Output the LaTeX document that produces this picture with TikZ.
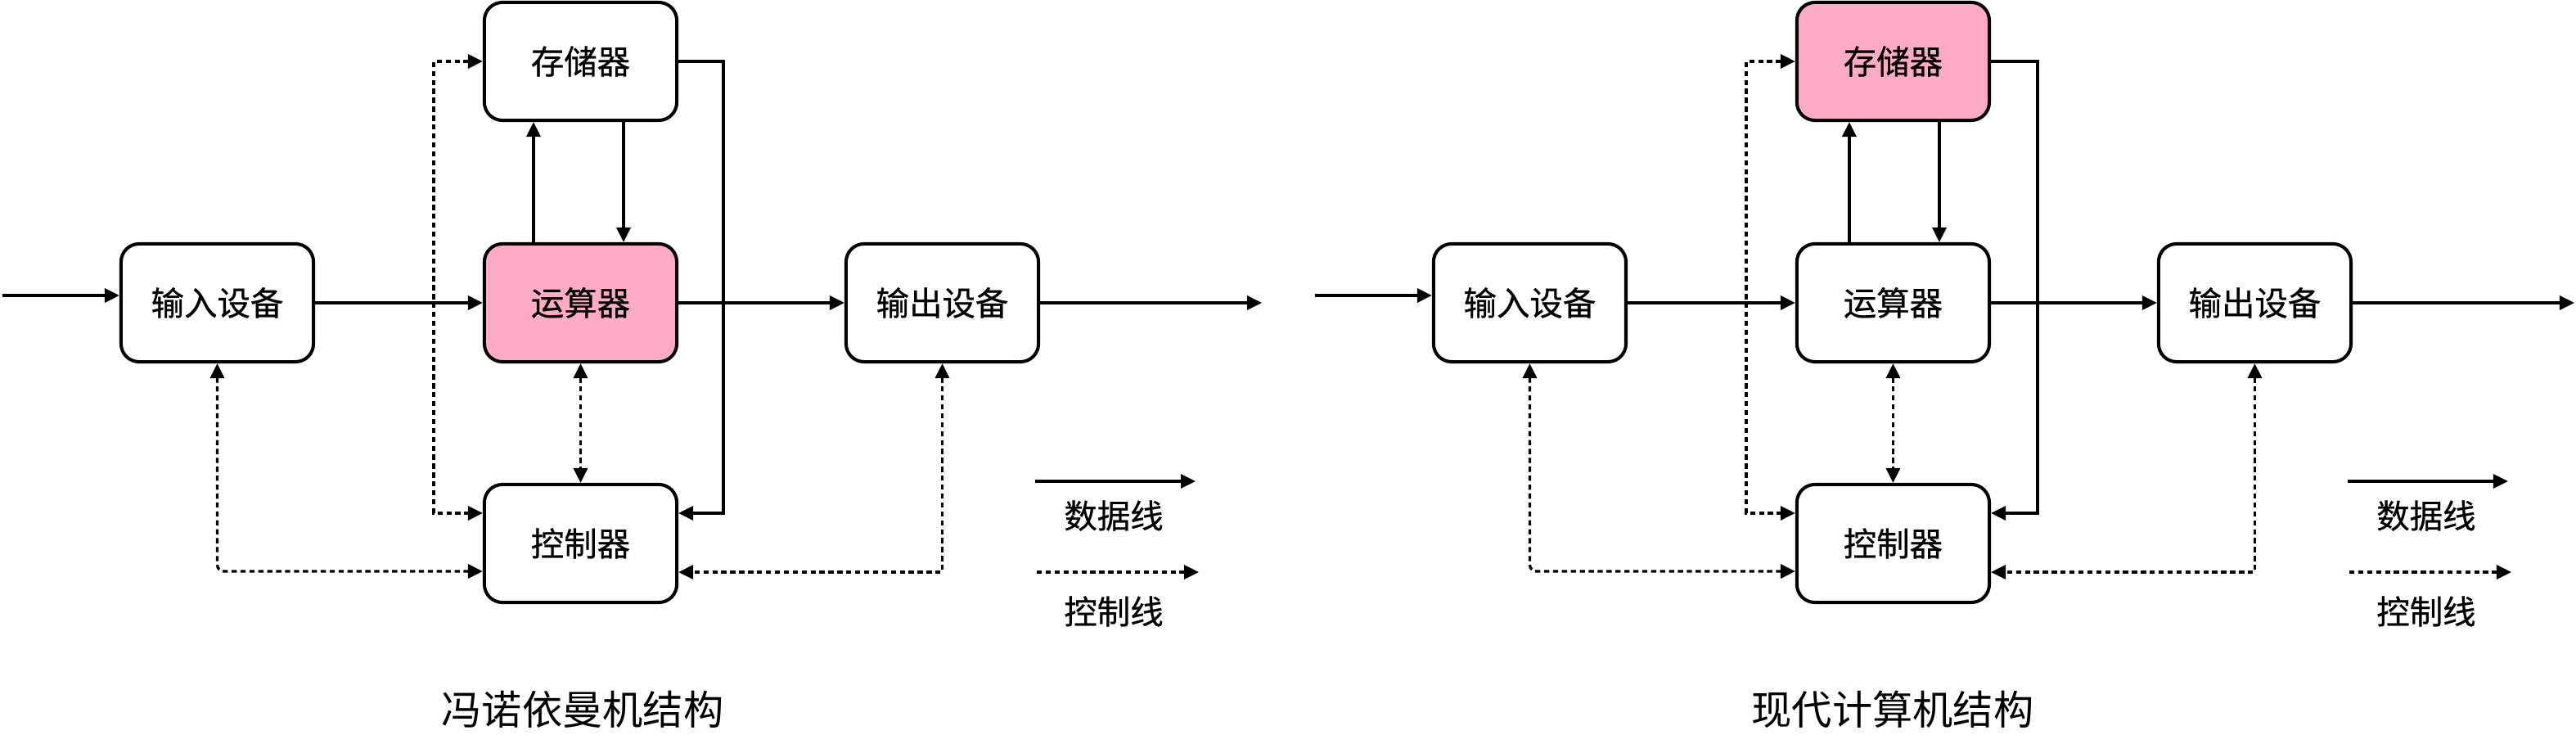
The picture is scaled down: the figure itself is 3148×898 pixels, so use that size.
\documentclass[tikz,border=0pt]{standalone}
\usepackage{fontspec}
\setmainfont{Noto Sans CJK SC}
\newfontfamily\labelfont[FakeBold=0.6]{Noto Sans CJK SC}
\usetikzlibrary{arrows.meta}
\definecolor{pinkfill}{RGB}{255,171,200}

\begin{document}
\begin{tikzpicture}[x=0.01cm,y=-0.01cm,
  box/.style={draw,line width=1.15pt,rounded corners=0.22cm,minimum width=2.35cm,minimum height=1.44cm,font=\labelfont\fontsize{11.5}{14}\selectfont},
  data/.style={line width=0.95pt,-{Triangle[length=0.18cm,width=0.17cm]}},
  ctrl/.style={line width=0.95pt,dash pattern=on 1.8pt off 1.3pt,-{Triangle[length=0.18cm,width=0.17cm]}},
  both/.style={{Triangle[length=0.18cm,width=0.17cm]}-{Triangle[length=0.18cm,width=0.17cm]}},
  legtext/.style={font=\labelfont\fontsize{11.5}{14}\selectfont},
  title/.style={font=\fontsize{14}{17}\selectfont}]
\useasboundingbox (0,0) rectangle (3148,898);

  % Von Neumann
\node[box] (in1) at (265.5,370) {输入设备};
\node[box] (mem1) at (709.5,75) {存储器};
\node[box,fill=pinkfill] (alu1) at (709.5,370) {运算器};
\node[box] (out1) at (1151.5,370) {输出设备};
\node[box] (ctl1) at (709.5,664) {控制器};
\coordinate (src1) at (3,361);
\coordinate (dst1) at (1542,370);
  % data lines
\draw[data] (src1) -- (src1 -| in1.west);
\draw[data] (in1.east) -- (alu1.west);
\draw[data] (alu1.east) -- (out1.west);
\draw[data] (out1.east) -- (dst1);
\draw[data] ([xshift=-0.575cm]alu1.north) -- ([xshift=-0.575cm]mem1.south);
\draw[data] ([xshift=0.525cm]mem1.south) -- ([xshift=0.525cm]alu1.north);
\draw[data] (mem1.east) -- ++(55,0) |- ([yshift=0.37cm]ctl1.east);
  % control lines
\draw[ctrl,both] (mem1.west) -- ++(-60,0) |- ([yshift=0.37cm]ctl1.west);
\draw[ctrl,both] (alu1.south) -- (ctl1.north);
\draw[ctrl,both,rounded corners=0.08cm] (in1.south) |- ([yshift=-0.34cm]ctl1.west);
\draw[ctrl,both] (out1.south) |- ([yshift=-0.35cm]ctl1.east);
  % legend
\coordinate (ka1) at (1265,588);
\coordinate (kb1) at (1461,588);
\coordinate (kc1) at (1267,699);
\coordinate (kd1) at (1465,699);
\draw[data] (ka1) -- (kb1);
\draw[ctrl] (kc1) -- (kd1);
\node[legtext] (kt1) at (1361,630) {数据线};
\node[legtext] (ku1) at (1361,747) {控制线};
\node[title] (t1) at (712,867) {冯诺依曼机结构};

  % modern
\begin{scope}[xshift=16.03cm]
\node[box] (in2) at (265.5,370) {输入设备};
\node[box,fill=pinkfill] (mem2) at (709.5,75) {存储器};
\node[box] (alu2) at (709.5,370) {运算器};
\node[box] (out2) at (1151.5,370) {输出设备};
\node[box] (ctl2) at (709.5,664) {控制器};
\coordinate (src2) at (3,361);
\coordinate (dst2) at (1542,370);
  % data lines
\draw[data] (src2) -- (src2 -| in2.west);
\draw[data] (in2.east) -- (alu2.west);
\draw[data] (alu2.east) -- (out2.west);
\draw[data] (out2.east) -- (dst2);
\draw[data] ([xshift=-0.535cm]alu2.north) -- ([xshift=-0.535cm]mem2.south);
\draw[data] ([xshift=0.565cm]mem2.south) -- ([xshift=0.565cm]alu2.north);
\draw[data] (mem2.east) -- ++(57,0) |- ([yshift=0.37cm]ctl2.east);
  % control lines
\draw[ctrl,both] (mem2.west) -- ++(-60,0) |- ([yshift=0.37cm]ctl2.west);
\draw[ctrl,both] (alu2.south) -- (ctl2.north);
\draw[ctrl,both,rounded corners=0.08cm] (in2.south) |- ([yshift=-0.34cm]ctl2.west);
\draw[ctrl,both] (out2.south) |- ([yshift=-0.35cm]ctl2.east);
  % legend
\coordinate (ka2) at (1265,588);
\coordinate (kb2) at (1461,588);
\coordinate (kc2) at (1267,699);
\coordinate (kd2) at (1465,699);
\draw[data] (ka2) -- (kb2);
\draw[ctrl] (kc2) -- (kd2);
\node[legtext] (kt2) at (1361,630) {数据线};
\node[legtext] (ku2) at (1361,747) {控制线};
\node[title] (t2) at (709,867) {现代计算机结构};
\end{scope}
\end{tikzpicture}
\end{document}
